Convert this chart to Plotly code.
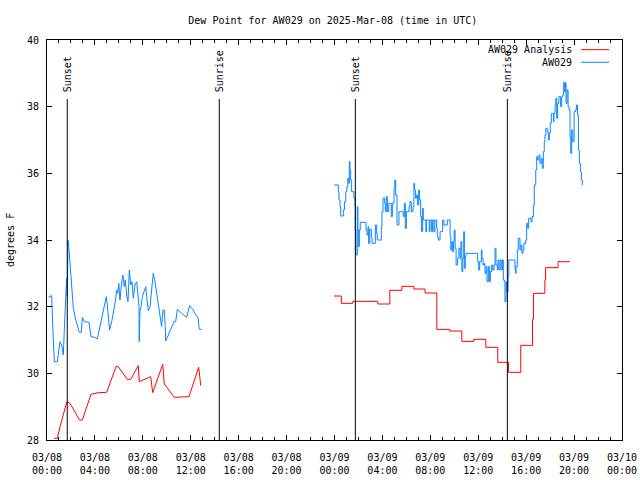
import pandas as pd
import plotly.graph_objects as go

BASE = pd.Timestamp("2025-03-08 00:00")

# ---------------- data (hours since 2025-03-08 00:00 UTC, degrees F) ----------------
obs1_hours = [0.11, 0.39, 0.48, 0.58, 0.61, 0.86, 0.98, 1.09, 1.25, 1.36, 1.48, 1.56, 1.64, 1.70, 1.75,
              1.84, 2.00, 2.11, 2.20, 2.40, 2.56, 2.70, 2.86, 2.95, 3.11, 3.51, 3.67, 4.01, 4.20, 4.42,
              4.65, 4.73, 4.84, 4.95, 5.07, 5.23, 5.40, 5.59, 5.70, 5.82, 5.90, 5.99, 6.09, 6.24, 6.34,
              6.45, 6.54, 6.65, 6.76, 6.87, 6.99, 7.10, 7.20, 7.37, 7.49, 7.68, 7.70, 7.76, 7.85, 7.96,
              8.12, 8.24, 8.32, 8.46, 8.60, 8.68, 8.79, 8.87, 8.99, 9.10, 9.29, 9.43, 9.57, 9.68, 9.79,
              9.87, 9.91, 10.13, 10.41, 10.60, 10.74, 10.88, 11.24, 11.66, 11.91, 12.21, 12.50, 12.61,
              12.71, 12.91]
obs1_values = [32.28, 32.33, 31.4, 30.7, 30.35, 30.35, 30.7, 30.95, 30.8, 30.55, 31.6, 32.28, 32.85, 32.3, 34.0,
               33.7, 32.8, 32.3, 31.95, 31.6, 31.4, 31.23, 31.23, 31.68, 31.55, 31.53, 31.1, 31.08, 31.03, 31.4,
               31.77, 31.9, 32.1, 32.3, 31.9, 31.3, 31.55, 31.9, 32.15, 32.5, 32.4, 32.7, 32.2, 32.75, 32.95,
               32.6, 32.8, 32.35, 32.15, 33.1, 32.65, 32.75, 32.25, 32.7, 32.75, 32.0, 30.95, 31.85, 32.0, 32.3,
               32.5, 32.6, 32.3, 31.88, 32.0, 32.35, 32.6, 33.0, 32.8, 32.55, 32.0, 31.7, 31.4, 31.9, 31.9,
               31.4, 30.97, 31.15, 31.4, 31.55, 31.55, 31.92, 31.8, 31.68, 32.03, 31.9, 31.7, 31.68,
               31.32, 31.32]

ana1_hours = [0.58, 0.86, 1.09, 1.50, 1.64, 1.86, 2.20, 2.70, 2.95, 3.67, 4.28, 4.98, 5.76, 5.95,
              6.70, 6.99, 7.62, 7.70, 8.66, 8.82, 9.66, 9.79, 10.63, 11.85, 12.66, 12.77, 12.83]
ana1_values = [28.05, 28.05, 28.4, 29.0, 29.13, 29.12, 28.93, 28.6, 28.6, 29.37, 29.42, 29.43, 30.2, 30.2,
               29.82, 29.82, 30.23, 29.75, 29.9, 29.42, 30.27, 29.68, 29.28, 29.3, 30.18, 29.85, 29.63]

ana2_hours = [23.96, 24.57, 25.53, 27.62, 28.62, 29.62, 30.62, 31.56, 32.54, 33.61, 34.63, 35.63,
              36.63, 37.63, 38.53, 39.55, 40.53, 40.61, 41.56, 41.62, 42.66, 43.63]
ana2_values = [32.32, 32.1, 32.16, 32.08, 32.49, 32.61, 32.53, 32.41, 31.32, 31.27, 30.96, 31.02,
               30.78, 30.33, 30.03, 30.84, 31.62, 32.4, 32.8, 33.17, 33.35, 33.35]

obs2_hours = [23.96, 24.23, 24.32, 24.37, 24.46, 24.52, 24.66, 24.74, 24.83, 24.94, 25.03, 25.11, 25.19,
              25.24, 25.29, 25.35, 25.43, 25.57, 25.62, 25.71, 25.73, 25.79, 25.90, 25.96, 26.02, 26.07,
              26.15, 26.57, 26.63, 26.71, 26.80, 26.85, 26.94, 27.02, 27.07, 27.13, 27.36, 27.41, 27.52,
              27.57, 27.86, 27.91, 27.96, 28.05, 28.19, 28.24, 28.32, 28.41, 28.53, 28.66, 28.74, 28.83,
              28.97, 29.03, 29.11, 29.22, 29.36, 29.38, 29.49, 29.64, 29.74, 29.83, 29.91, 30.00, 30.14,
              30.22, 30.30, 30.41, 30.55, 30.63, 30.69, 30.77, 30.86, 30.94, 31.03, 31.11, 31.19, 31.27,
              31.36, 31.41, 31.55, 31.63, 31.69, 31.83, 31.91, 31.97, 32.11, 32.19, 32.30, 32.38, 32.53,
              32.58, 32.66, 32.81, 32.95, 33.03, 33.14, 33.31, 33.42, 33.59, 33.65, 33.71, 33.79, 33.87,
              33.93, 33.99, 34.07, 34.15, 34.26, 34.38, 34.49, 34.55, 34.63, 34.71, 34.79, 34.84, 34.92,
              34.98, 35.87, 35.95, 36.04, 36.12, 36.26, 36.31, 36.40, 36.51, 36.56, 36.65, 36.73, 36.84,
              36.93, 37.01, 37.12, 37.21, 37.32, 37.40, 37.48, 37.59, 37.65, 37.73, 37.82, 37.92, 38.01,
              38.09, 38.18, 38.23, 38.32, 38.38, 38.49, 38.55, 39.01, 39.07, 39.13, 39.15, 39.26, 39.34,
              39.40, 39.48, 39.56, 39.65, 39.73, 39.81, 39.96, 40.04, 40.13, 40.21, 40.32, 40.40, 40.49,
              40.60, 40.68, 40.80, 40.88, 40.96, 41.07, 41.15, 41.26, 41.34, 41.43, 41.51, 41.57, 41.65,
              41.76, 41.85, 41.93, 42.01, 42.10, 42.21, 42.27, 42.32, 42.41, 42.47, 42.55, 42.63, 42.72,
              42.83, 42.88, 42.96, 43.05, 43.13, 43.22, 43.27, 43.33, 43.41, 43.50, 43.58, 43.66, 43.72,
              43.80, 43.89, 44.00, 44.11, 44.19, 44.28, 44.36, 44.44, 44.53, 44.61, 44.69]
obs2_values = [35.65, 35.65, 35.45, 35.2, 35.0, 34.72, 34.72, 34.9, 35.15, 35.45, 35.6, 35.85, 35.7,
               36.35, 36.1, 35.8, 35.45, 35.45, 35.25, 35.0, 34.3, 33.55, 35.0, 34.3, 33.8, 34.3,
               34.53, 34.53, 34.3, 34.15, 34.4, 33.9, 34.33, 34.33, 34.1, 33.9, 33.9, 34.45, 34.2,
               34.0, 34.0, 34.4, 34.85, 35.25, 35.1, 34.85, 35.3, 34.85, 35.1, 35.1, 34.7, 35.1,
               35.55, 35.8, 35.35, 34.45, 34.45, 34.85, 34.85, 34.85, 34.7, 35.1, 34.35, 34.85, 34.85,
               35.0, 35.15, 34.85, 35.0, 35.7, 35.5, 35.25, 35.35, 35.05, 35.5, 35.2, 34.7, 34.25,
               34.95, 34.6, 34.6, 34.25, 34.6, 34.6, 34.25, 34.6, 34.25, 34.6, 34.25, 34.6, 34.35,
               34.1, 34.0, 34.25, 34.25, 34.6, 34.45, 34.45, 34.6, 34.6, 34.1, 33.7, 33.95, 33.65,
               33.95, 34.3, 33.75, 33.25, 33.45, 33.75, 33.45, 33.95, 33.05, 33.45, 34.25, 33.15, 33.5,
               33.6, 33.6, 33.35, 33.1, 33.35, 33.7, 33.45, 33.25, 33.3, 33.0, 33.2, 32.75, 33.2,
               32.75, 33.05, 33.25, 33.1, 33.25, 33.75, 33.25, 33.1, 33.4, 33.1, 33.4, 33.1, 33.4,
               32.8, 32.75, 32.15, 32.75, 32.45, 32.9, 33.4, 33.4, 33.1, 33.0, 33.2, 33.7, 34.05,
               34.05, 33.7, 33.85, 33.6, 33.7, 33.9, 34.0, 34.5, 34.35, 34.65, 34.65, 34.55, 34.7,
               35.05, 35.65, 36.1, 36.5, 36.4, 36.55, 36.3, 36.45, 36.15, 36.65, 36.95, 37.15, 37.35,
               37.25, 37.0, 37.2, 37.5, 37.8, 37.8, 37.55, 37.8, 38.05, 38.25, 37.65, 38.1, 38.3,
               38.3, 38.0, 38.3, 38.35, 38.72, 38.45, 38.72, 38.1, 38.5, 38.0, 37.9, 37.1, 36.6,
               37.3, 36.95, 37.85, 37.9, 38.05, 37.75, 36.7, 36.3, 36.05, 35.8, 35.65]

event_names = ["Sunset", "Sunrise", "Sunset", "Sunrise"]
event_hours = [1.69, 14.38, 25.74, 38.43]

tick_hours = [0, 4, 8, 12, 16, 20, 24, 28, 32, 36, 40, 44, 48]
tick_dates = ["03/08"] * 6 + ["03/09"] * 6 + ["03/10"]
tick_times = ["00:00", "04:00", "08:00", "12:00", "16:00", "20:00"] * 2 + ["00:00"]

y_ticks = [28, 30, 32, 34, 36, 38, 40]

series_names = ["AW029 Analysis", "AW029"]
series_colors = ["#ff0000", "#0a84ff"]

title_text = "Dew Point for AW029 on 2025-Mar-08 (time in UTC)"
y_label = "degrees F"


def to_time(hours):
    return [BASE + pd.Timedelta(hours=h) for h in hours]


FONT = dict(family="DejaVu Sans Mono, Liberation Mono, monospace", size=10, color="black")

fig = go.Figure()
fig.add_trace(go.Scatter(x=to_time(ana1_hours), y=ana1_values, mode="lines", name=series_names[0],
                         line=dict(color=series_colors[0], width=1), showlegend=False))
fig.add_trace(go.Scatter(x=to_time(ana2_hours), y=ana2_values, mode="lines", name=series_names[0],
                         line=dict(color=series_colors[0], width=1, shape="hv"), showlegend=False))
fig.add_trace(go.Scatter(x=to_time(obs1_hours), y=obs1_values, mode="lines", name=series_names[1],
                         line=dict(color=series_colors[1], width=1), showlegend=False))
fig.add_trace(go.Scatter(x=to_time(obs2_hours), y=obs2_values, mode="lines", name=series_names[1],
                         line=dict(color=series_colors[1], width=1, shape="hv"), showlegend=False))

# sunrise / sunset markers
for name, h in zip(event_names, event_hours):
    tt = to_time([h])[0]
    fig.add_shape(type="line", xref="x", yref="paper", x0=tt, x1=tt, y0=0, y1=0.8525,
                  line=dict(color="black", width=1))
    fig.add_annotation(x=tt, xref="x", y=0.865, yref="paper", text=name, textangle=-90,
                       showarrow=False, xanchor="center", yanchor="bottom", font=FONT)

# gnuplot-style legend (text, then line sample)
legend_rows = [0.9758, 0.9443]
for name, color, yy in zip(series_names, series_colors, legend_rows):
    fig.add_annotation(x=0.9165, xref="paper", y=yy, yref="paper", text=name, showarrow=False,
                       xanchor="right", yanchor="middle", font=FONT)
    fig.add_shape(type="line", xref="paper", yref="paper", x0=0.9287, x1=0.9774, y0=yy, y1=yy,
                  line=dict(color=color, width=1))

# y-axis label
fig.add_annotation(x=0, xref="paper", y=0.5, yref="paper", text=y_label, textangle=-90,
                   showarrow=False, xanchor="center", yanchor="middle", xshift=-37, font=FONT)

fig.update_layout(
    width=640, height=480,
    margin=dict(l=47, r=18, t=40, b=40, autoexpand=False),
    paper_bgcolor="white", plot_bgcolor="white",
    font=FONT,
    title=dict(text=title_text, x=0.52, xanchor="center", y=1 - 20 / 480, yanchor="middle",
               font=FONT),
    showlegend=False,
)

fig.update_xaxes(
    range=[BASE, BASE + pd.Timedelta(hours=48)],
    tickmode="array",
    tickvals=to_time(tick_hours),
    ticktext=[d + "<br>" + t for d, t in zip(tick_dates, tick_times)],
    ticks="inside", ticklen=5, tickcolor="black", tickwidth=1,
    minor=dict(ticks="inside", ticklen=3, dtick=3600000, tick0=BASE, tickcolor="black"),
    showline=True, linecolor="black", linewidth=1, mirror="allticks",
    showgrid=False, zeroline=False, automargin=False,
    tickfont=FONT, ticklabelstandoff=8,
)
fig.update_yaxes(
    range=[28, 40],
    tickmode="array", tickvals=y_ticks, ticktext=[str(v) for v in y_ticks],
    ticks="inside", ticklen=5, tickcolor="black", tickwidth=1,
    showline=True, linecolor="black", linewidth=1, mirror="allticks",
    showgrid=False, zeroline=False, automargin=False,
    tickfont=FONT, ticklabelstandoff=5,
)

fig.write_html("out.html")
